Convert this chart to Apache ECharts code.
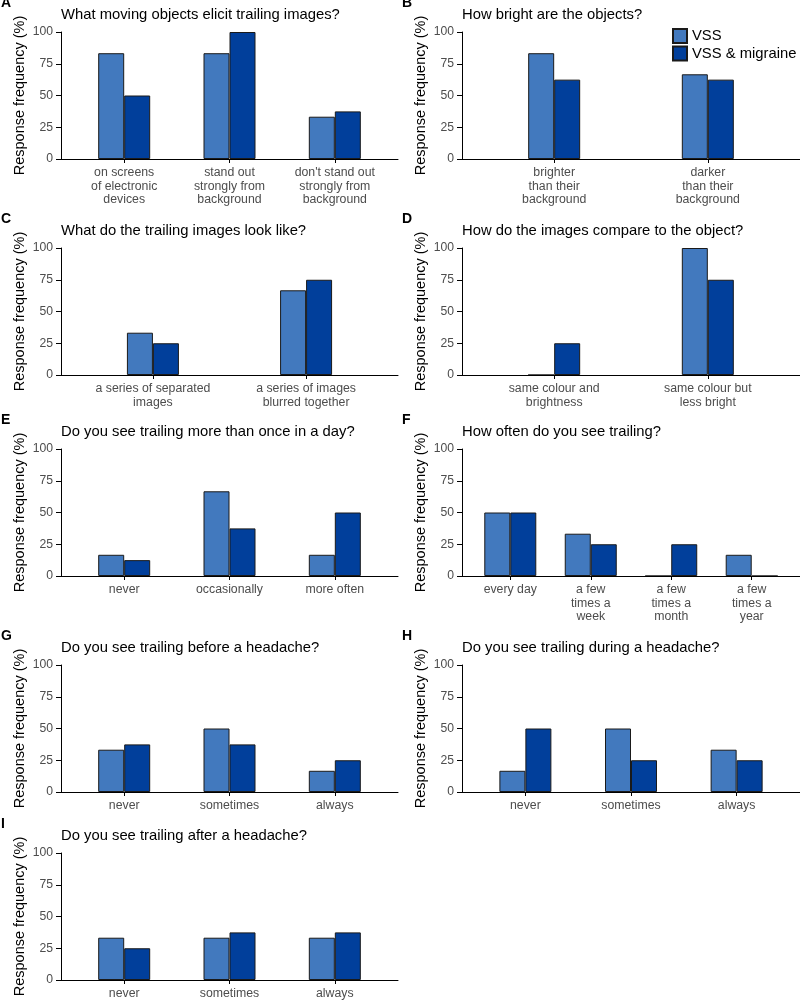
<!DOCTYPE html>
<html><head><meta charset="utf-8">
<script src="https://cdn.jsdelivr.net/npm/echarts@6/dist/echarts.min.js"></script>
<style>html,body{margin:0;padding:0;background:#fff}#c{width:800px;height:1001px}</style>
</head><body><div id="c"></div>
<script>
// ---------- data ----------
const seriesNames = ['VSS', 'VSS & migraine'];
const yTicks = [0, 25, 50, 75, 100];

const titleA = 'What moving objects elicit trailing images?';
const catsA = ['on screens\nof electronic\ndevices', 'stand out\nstrongly from\nbackground', "don't stand out\nstrongly from\nbackground"];
const vssA = [83.3, 83.3, 33.3];
const migA = [50, 100, 37.5];

const titleB = 'How bright are the objects?';
const catsB = ['brighter\nthan their\nbackground', 'darker\nthan their\nbackground'];
const vssB = [83.3, 66.7];
const migB = [62.5, 62.5];

const titleC = 'What do the trailing images look like?';
const catsC = ['a series of separated\nimages', 'a series of images\nblurred together'];
const vssC = [33.3, 66.7];
const migC = [25, 75];

const titleD = 'How do the images compare to the object?';
const catsD = ['same colour and\nbrightness', 'same colour but\nless bright'];
const vssD = [0, 100];
const migD = [25, 75];

const titleE = 'Do you see trailing more than once in a day?';
const catsE = ['never', 'occasionally', 'more often'];
const vssE = [16.7, 66.7, 16.7];
const migE = [12.5, 37.5, 50];

const titleF = 'How often do you see trailing?';
const catsF = ['every day', 'a few\ntimes a\nweek', 'a few\ntimes a\nmonth', 'a few\ntimes a\nyear'];
const vssF = [50, 33.3, 0, 16.7];
const migF = [50, 25, 25, 0];

const titleG = 'Do you see trailing before a headache?';
const catsG = ['never', 'sometimes', 'always'];
const vssG = [33.3, 50, 16.7];
const migG = [37.5, 37.5, 25];

const titleH = 'Do you see trailing during a headache?';
const catsH = ['never', 'sometimes', 'always'];
const vssH = [16.7, 50, 33.3];
const migH = [50, 25, 25];

const titleI = 'Do you see trailing after a headache?';
const catsI = ['never', 'sometimes', 'always'];
const vssI = [33.3, 33.3, 33.3];
const migI = [25, 37.5, 37.5];

// ---------- layout ----------
const panels = [
  {letter: 'A', title: titleA, cats: catsA, vss: vssA, mig: migA, col: 0, row: 0},
  {letter: 'B', title: titleB, cats: catsB, vss: vssB, mig: migB, col: 1, row: 0},
  {letter: 'C', title: titleC, cats: catsC, vss: vssC, mig: migC, col: 0, row: 1},
  {letter: 'D', title: titleD, cats: catsD, vss: vssD, mig: migD, col: 1, row: 1},
  {letter: 'E', title: titleE, cats: catsE, vss: vssE, mig: migE, col: 0, row: 2},
  {letter: 'F', title: titleF, cats: catsF, vss: vssF, mig: migF, col: 1, row: 2},
  {letter: 'G', title: titleG, cats: catsG, vss: vssG, mig: migG, col: 0, row: 3},
  {letter: 'H', title: titleH, cats: catsH, vss: vssH, mig: migH, col: 1, row: 3},
  {letter: 'I', title: titleI, cats: catsI, vss: vssI, mig: migI, col: 0, row: 4}
];
const rowTops = [32, 248, 449, 665, 853];
const plotH = 127;
const colLeft = [61, 462];
const colWidth = [337, 338];
const colLetterX = [1, 402];

const FONT = '"Liberation Sans", Arial, sans-serif';
const C_VSS = '#4279BE';
const C_MIG = '#013F9B';
const grey = '#4d4d4d';

const grids = [], xAxes = [], yAxes = [], series = [], titles = [];
panels.forEach((p, i) => {
  const top = rowTops[p.row];
  grids.push({left: colLeft[p.col], top: top, width: colWidth[p.col], height: plotH, outerBoundsMode: 'none', containLabel: false});
  const n = p.cats.length;
  const idx = p.cats.map((c, k) => k + 1);
  const cats = p.cats;
  xAxes.push({
    type: 'value', gridIndex: i, min: 0.4, max: n + 0.6, z: 5,
    splitLine: {show: false},
    axisLine: {show: true, onZero: false, lineStyle: {color: '#000', width: 1}},
    axisTick: {show: true, length: 4, customValues: idx, lineStyle: {color: '#000'}},
    axisLabel: {show: true, customValues: idx, margin: 7, color: grey, fontFamily: FONT, fontSize: 12.3, lineHeight: 13.5,
      formatter: v => cats[Math.round(v) - 1] || ''}
  });
  yAxes.push({
    type: 'value', gridIndex: i, min: 0, max: 100, interval: 25,
    name: 'Response frequency (%)', nameLocation: 'middle', nameGap: 32,
    nameTextStyle: {color: '#000', fontFamily: FONT, fontSize: 14.5, lineHeight: 17},
    splitLine: {show: false},
    axisLine: {show: true, lineStyle: {color: '#000', width: 1}},
    axisTick: {show: true, length: 5, lineStyle: {color: '#000'}},
    axisLabel: {margin: 8, color: grey, fontFamily: FONT, fontSize: 12.2}
  });
  series.push({
    type: 'bar', name: seriesNames[0], xAxisIndex: i, yAxisIndex: i,
    data: p.vss.map((v, k) => [k + 1, v]), barWidth: 26, barGap: '0%',
    itemStyle: {color: C_VSS, borderColor: '#1a1a1a', borderWidth: 1}, silent: true
  });
  series.push({
    type: 'bar', name: seriesNames[1], xAxisIndex: i, yAxisIndex: i,
    data: p.mig.map((v, k) => [k + 1, v]), barWidth: 26, barGap: '0%',
    itemStyle: {color: C_MIG, borderColor: '#1a1a1a', borderWidth: 1}, silent: true
  });
  titles.push({
    text: p.title, left: colLeft[p.col], top: top - 17 - 9, padding: 0,
    textStyle: {color: '#000', fontFamily: FONT, fontSize: 14.8, fontWeight: 'normal', lineHeight: 18}
  });
  titles.push({
    text: p.letter, left: colLetterX[p.col], top: top - 29 - 8, padding: 0,
    textStyle: {color: '#000', fontFamily: FONT, fontSize: 14, fontWeight: 'bold', lineHeight: 16}
  });
});

const chart = echarts.init(document.getElementById('c'), null, {renderer: 'canvas'});
chart.setOption({
  animation: false,
  backgroundColor: '#fff',
  title: titles,
  legend: {
    data: seriesNames, orient: 'vertical', left: 672, top: 28, padding: 0,
    icon: 'rect', itemWidth: 14, itemHeight: 14, itemGap: 1.5,
    textStyle: {color: '#000', fontFamily: FONT, fontSize: 14.8, lineHeight: 15},
    selectedMode: false
  },
  grid: grids, xAxis: xAxes, yAxis: yAxes, series: series
});
</script></body></html>
